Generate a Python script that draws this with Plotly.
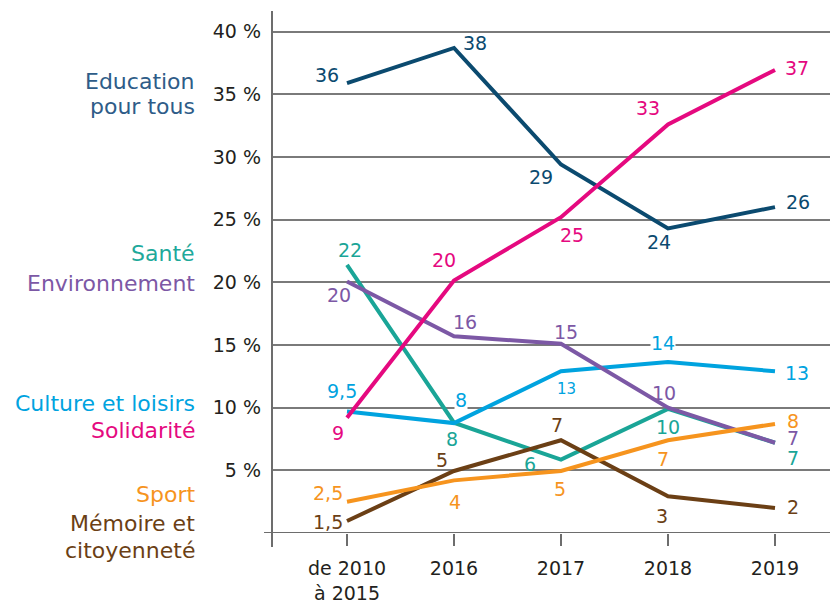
import plotly.graph_objects as go

# ---------------- data ----------------
categories = ["de 2010<br>à 2015", "2016", "2017", "2018", "2019"]

education_vals = [35.9, 38.7, 29.4, 24.3, 26.0]
education_labels = ["36", "38", "29", "24", "26"]

solidarite_vals = [9.2, 20.15, 25.2, 32.6, 36.95]
solidarite_labels = ["9", "20", "25", "33", "37"]

culture_vals = [9.7, 8.77, 12.9, 13.64, 12.9]
culture_labels = ["9,5", "8", "13", "14", "13"]

environnement_vals = [20.07, 15.7, 15.1, 10.0, 7.2]
environnement_labels = ["20", "16", "15", "10", "7"]

sante_vals = [21.4, 8.8, 5.85, 9.9, 7.2]
sante_labels = ["22", "8", "6", "10", "7"]

sport_vals = [2.5, 4.2, 4.95, 7.4, 8.7]
sport_labels = ["2,5", "4", "5", "7", "8"]

memoire_vals = [0.96, 4.95, 7.4, 2.93, 2.0]
memoire_labels = ["1,5", "5", "7", "3", "2"]

y_ticks = [5, 10, 15, 20, 25, 30, 35, 40]

# ---------------- styling ----------------
FONT = "DejaVu Sans"
TXT = "#231f20"
GRID = "#7a7a7a"

series = [
    # name, values, labels, line colour, label offsets (dx, dy)
    ("Santé", sante_vals, sante_labels, "#1aa597",
     [(3, 15), (-2, -16), (-31, -4), (0, -18), (18, -15)]),
    ("Culture et loisirs", culture_vals, culture_labels, "#00a3df",
     [(-5, 20), (7, 23), (5, -18), (-5, 19), (22, -2)]),
    ("Environnement", environnement_vals, environnement_labels, "#7c58a5",
     [(-8, -14), (11, 14), (5, 12), (-4, 15), (18, 5)]),
    ("Mémoire et citoyenneté", memoire_vals, memoire_labels, "#6b3f15",
     [(-19, -1), (-12, 11), (-4, 15), (-6, -20), (18, 1)]),
    ("Sport", sport_vals, sport_labels, "#f6941e",
     [(-19, 9), (1, -22), (-1, -18), (-5, -19), (18, 3)]),
    ("Education pour tous", education_vals, education_labels, "#0b4a6f",
     [(-20, 8), (21, 5), (-20, -12), (-9, -14), (23, 5)]),
    ("Solidarité", solidarite_vals, solidarite_labels, "#e5097f",
     [(-9, -15), (-10, 20), (11, -18), (-20, 16), (22, 2)]),
]

fig = go.Figure()
xs = list(range(len(categories)))
annotations = []
for name, vals, labs, col, offs in series:
    fig.add_trace(go.Scatter(x=xs, y=vals, mode="lines", name=name,
                             line=dict(color=col, width=4),
                             hoverinfo="skip", showlegend=False))
    for i, (v, t) in enumerate(zip(vals, labs)):
        dx, dy = offs[i]
        size = 19
        bg = None
        if name == "Culture et loisirs" and i == 2:
            size = 15
        if name == "Culture et loisirs" and i in (1, 3):
            bg = "white"
        annotations.append(dict(x=i, y=v, xref="x", yref="y", text=t,
                                showarrow=False, xshift=dx, yshift=dy,
                                font=dict(family=FONT, size=size, color=col),
                                bgcolor=bg, borderpad=0))

# left-side category labels (one annotation per text line)
left_labels = [
    ("Education", "#2e5c88", 0.8646),
    ("pour tous", "#2e5c88", 0.8167),
    ("Santé", "#1fa99b", 0.5358),
    ("Environnement", "#7c58a5", 0.4784),
    ("Culture et loisirs", "#00a3df", 0.2485),
    ("Solidarité", "#e5097f", 0.1973),
    ("Sport", "#f6941e", 0.0741),
    ("Mémoire et", "#6b3f15", 0.0186),
    ("citoyenneté", "#6b3f15", -0.0326),
]
for txt, col, yp in left_labels:
    annotations.append(dict(x=-0.1325, y=yp, xref="paper", yref="paper",
                            text=txt, showarrow=False, xanchor="right",
                            yanchor="middle", align="right",
                            font=dict(family=FONT, size=22, color=col)))

shapes = [
    # vertical axis line
    dict(type="line", xref="paper", yref="paper", x0=0, x1=0, y0=-0.027, y1=1,
         line=dict(color="#6d6d6d", width=2)),
    # zero line extending left of axis
    dict(type="line", xref="paper", yref="y", x0=-0.0141, x1=1, y0=0, y1=0,
         line=dict(color="#6d6d6d", width=2)),
]

fig.update_layout(
    width=830, height=595,
    margin=dict(l=264, r=0, t=3, b=70),
    paper_bgcolor="white", plot_bgcolor="white",
    font=dict(family=FONT, color=TXT),
    annotations=annotations,
    shapes=shapes,
    xaxis=dict(range=[-0.7009, 4.5888], tickmode="array", tickvals=xs,
               ticktext=categories, showgrid=False, zeroline=False,
               showline=False, ticks="outside", ticklen=12, tickwidth=1.5,
               tickcolor="#6d6d6d", ticklabelstandoff=6,
               tickfont=dict(family=FONT, size=19, color=TXT)),
    yaxis=dict(range=[0, 41.65], tickmode="array", tickvals=y_ticks,
               ticktext=[f"{v} %" for v in y_ticks], showgrid=True,
               gridcolor=GRID, gridwidth=1.5, zeroline=False, showline=False,
               ticklabelstandoff=10,
               tickfont=dict(family=FONT, size=19, color=TXT)),
)

fig.write_html("out.html")
